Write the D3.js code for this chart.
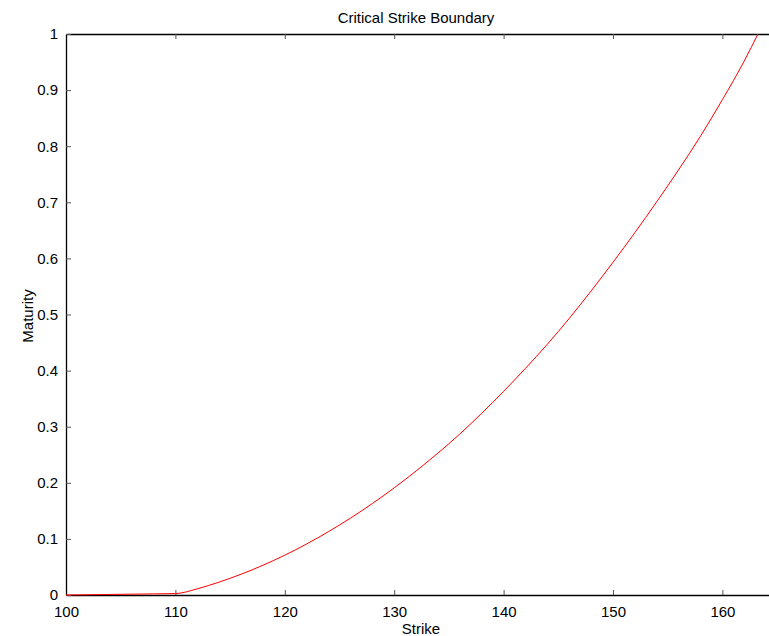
<!DOCTYPE html>
<html>
<head>
<meta charset="utf-8">
<script src="https://cdn.jsdelivr.net/npm/d3@7"></script>
<style>
  body { margin: 0; background: #fff; }
  svg { font-family: "Liberation Sans", Arial, sans-serif; display: block; }
</style>
</head>
<body>
<div class="chart"></div>
<script>
// data
var strike   = [100, 102, 104, 106, 108, 110, 112, 114, 116, 118, 120, 122, 124, 126, 128, 130,
                132, 134, 136, 138, 140, 142, 144, 146, 148, 150, 152, 154, 156, 158, 160, 162, 163.25];
var maturity = [0, 0.0005, 0.001, 0.0015, 0.002, 0.0025, 0.011, 0.023, 0.037, 0.053, 0.071, 0.091, 0.113, 0.137, 0.163, 0.191,
                0.221, 0.253, 0.287, 0.324, 0.363, 0.404, 0.447, 0.493, 0.542, 0.593, 0.646, 0.701, 0.758, 0.818, 0.883, 0.952, 1.0];
var xTicks = [100, 110, 120, 130, 140, 150, 160];
var yTicks = [0, 0.1, 0.2, 0.3, 0.4, 0.5, 0.6, 0.7, 0.8, 0.9, 1];

function drawChart() {
    var w = 769, h = 636;
    var padLeft = 66, padTop = 34, padBottom = 595;
    var axisRight = padLeft + 6.5 * 109.4; // axis box runs off the right edge

    var svg = d3.select(".chart").append("svg")
                .attr("width", w)
                .attr("height", h);

    var xScale = d3.scaleLinear().domain([100, 165]).range([padLeft, axisRight]);
    var yScale = d3.scaleLinear().domain([0, 1]).range([padBottom, padTop]);

    // bottom axis (ticks point inward)
    var xAxis = d3.axisBottom(xScale).tickValues(xTicks).tickFormat(d3.format("d")).tickSizeInner(-5).tickSizeOuter(0).tickPadding(11);
    svg.append("g")
       .attr("class", "xAxis")
       .attr("transform", `translate(0,${padBottom})`)
       .call(xAxis);

    // top axis, ticks only
    var xTop = d3.axisTop(xScale).tickValues(xTicks).tickFormat("").tickSizeInner(-5).tickSizeOuter(0);
    svg.append("g")
       .attr("class", "xTop")
       .attr("transform", `translate(0,${padTop})`)
       .call(xTop);

    var yAxis = d3.axisLeft(yScale).tickValues(yTicks).tickFormat(d3.format("")).tickSizeInner(-5).tickSizeOuter(0).tickPadding(8);
    svg.append("g")
       .attr("class", "yAxis")
       .attr("transform", `translate(${padLeft},0)`)
       .call(yAxis);

    svg.selectAll(".xAxis path, .xTop path, .yAxis path")
       .attr("stroke", "#000").attr("stroke-width", 1.3);
    svg.selectAll(".tick line").attr("stroke", "#555").attr("stroke-width", 1);
    svg.selectAll(".tick text").attr("font-size", 15).attr("fill", "#000")
       .attr("font-family", "Liberation Sans, Arial, sans-serif");

    var line = d3.line()
                 .curve(d3.curveMonotoneX)
                 .x(function(d, i) { return xScale(strike[i]); })
                 .y(function(d) { return yScale(d); });

    svg.append("path")
       .datum(maturity)
       .attr("fill", "none")
       .attr("stroke", "#ff0000")
       .attr("stroke-width", 1)
       .attr("d", line);

    svg.append("text")
       .attr("x", 416).attr("y", 23)
       .attr("text-anchor", "middle")
       .attr("font-size", 15)
       .text("Critical Strike Boundary");

    svg.append("text")
       .attr("x", 421).attr("y", 634)
       .attr("text-anchor", "middle")
       .attr("font-size", 15)
       .text("Strike");

    svg.append("text")
       .attr("transform", "translate(33,316) rotate(-90)")
       .attr("text-anchor", "middle")
       .attr("font-size", 15)
       .text("Maturity");
}

drawChart();
</script>
</body>
</html>
